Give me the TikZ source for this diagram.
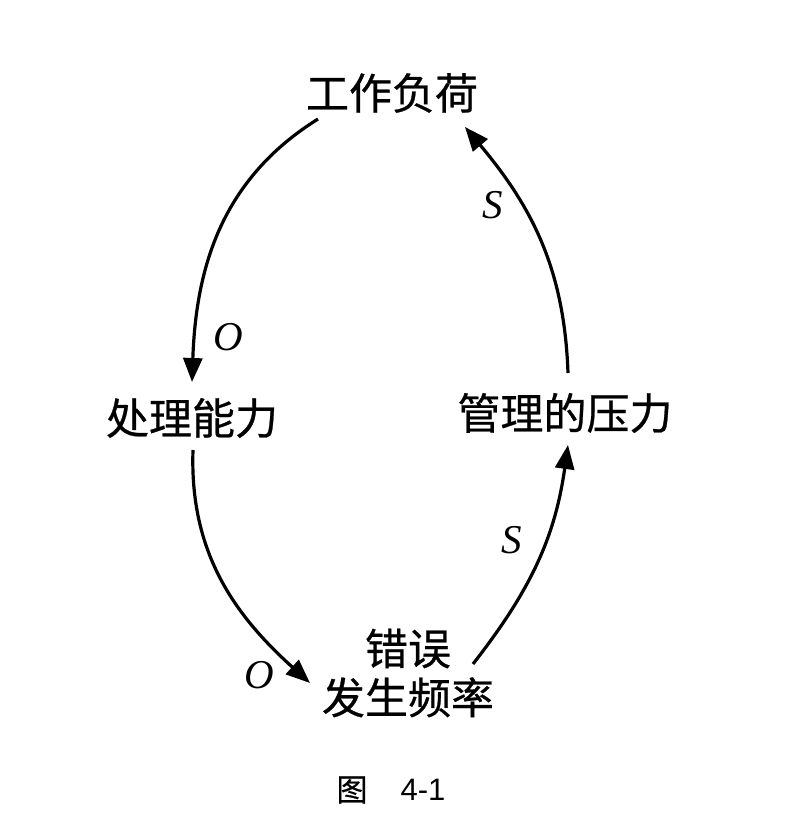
\documentclass[tikz,border=0pt]{standalone}
\usepackage{fontspec}
\newfontfamily\cjk{Noto Sans CJK SC}[FakeBold=0.6]
\newfontfamily\tms{Liberation Serif}
\newfontfamily\lsans{Liberation Sans}
\usetikzlibrary{arrows.meta,calc}
\begin{document}
\begin{tikzpicture}[x=1pt,y=1pt,
  lbl/.style={font=\cjk\fontsize{43}{49}\selectfont, inner sep=0pt, align=center},
  sym/.style={font=\tms\itshape\fontsize{41}{43}\selectfont, inner sep=0pt},
  link/.style={line width=3.2pt, -{Triangle[length=24pt,width=19pt]}}]
\useasboundingbox (0,0) rectangle (808,828);
\node[lbl] (work) at (392,735) {工作负荷};
\node[lbl] (proc) at (192,410) {处理能力};
\node[lbl] (mgmt) at (565,415) {管理的压力};
\node[lbl] (err)  at (408,155) {错误\\发生频率};
\draw[link] ($(work.center)+(-74,-26)$) to[out=212,in=88] ($(proc.center)+(0,36)$);
\draw[link] ($(proc.center)+(1,-32)$) to[out=268,in=138] ($(err.center)+(-98,-10)$);
\draw[link] ($(err.center)+(65,9)$) to[out=52,in=262] ($(mgmt.center)+(3,-32)$);
\draw[link] ($(mgmt.center)+(3,40)$) to[out=92,in=-50] ($(work.center)+(73,-34)$);
\node[sym] (o1) at (228,491) {O};
\node[sym] (s1) at (493,623) {S};
\node[sym] (o2) at (259,153) {O};
\node[sym] (s2) at (512,288) {S};
\node[font=\cjk\fontsize{31}{33}\selectfont, inner sep=0pt] (fig) at (352,38) {图};
\node[font=\lsans\fontsize{31}{33}\selectfont, inner sep=0pt] (num) at (423,38) {4-1};
\end{tikzpicture}
\end{document}
